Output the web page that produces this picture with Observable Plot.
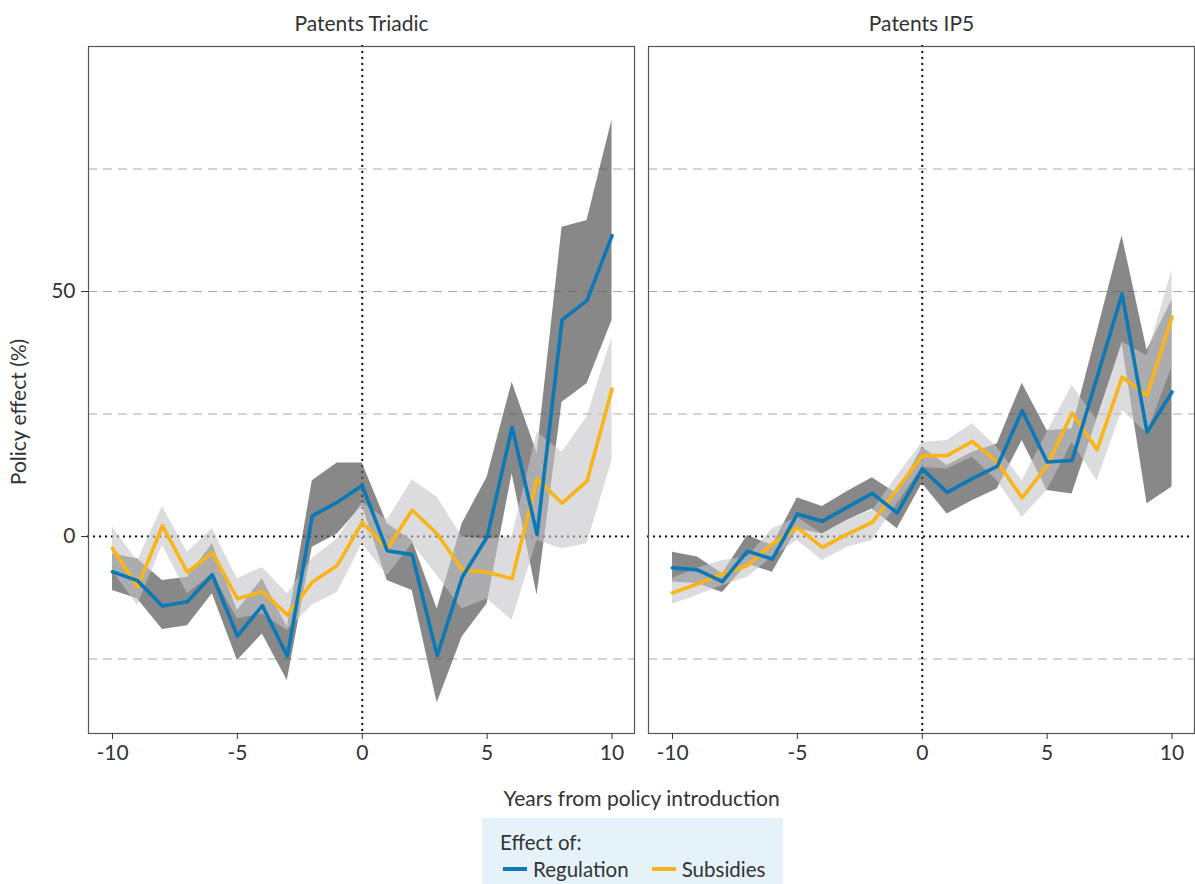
<!DOCTYPE html>
<html>
<head>
<meta charset="utf-8">
<script src="https://cdn.jsdelivr.net/npm/d3@7"></script>
<script src="https://cdn.jsdelivr.net/npm/@observablehq/plot@0.6"></script>
<style>
  html, body { margin: 0; padding: 0; background: #fff; }
  #wrap { position: relative; width: 1195px; height: 884px; font-family: Lato, "Open Sans", sans-serif; color: #333; }
  #legend { position: absolute; left: 482px; top: 818px; width: 301px; height: 66px; background: #e6f2f9; box-sizing: border-box; padding: 12px 0 0 18px; font-size: 20.5px; line-height: 24px; color: #333; }
  #legend .row { display: flex; align-items: center; margin-top: 3px; }
  #legend .sw { display: inline-block; width: 24px; height: 4px; margin-right: 6px; margin-left: 3px; }
  #legend .item { display: inline-flex; align-items: center; margin-right: 20px; }
</style>
</head>
<body>
<div id="wrap">
  <div id="chart"></div>
  <div id="legend"></div>
</div>
<script>
const years = [-10,-9,-8,-7,-6,-5,-4,-3,-2,-1,0,1,2,3,4,5,6,7,8,9,10];
const panels = ["Patents Triadic", "Patents IP5"];
const seriesNames = ["Regulation", "Subsidies"];
const seriesColors = ["#0b79b5", "#f9b418"];

// Patents Triadic
const triadicReg   = [-7.2, -9.0, -14.2, -13.3, -7.8, -20.3, -14.1, -24.4, 4.2, 7.0, 10.4, -2.9, -3.7, -24.3, -8.3, -0.1, 22.3, 0.4, 44.2, 48.2, 61.4];
const triadicRegLo = [-11.0, -12.7, -19.0, -18.2, -11.7, -25.3, -19.9, -29.4, -2.2, 0.5, 6.3, -9.0, -11.0, -34.0, -20.5, -13.7, 12.8, -12.0, 27.4, 31.2, 44.1];
const triadicRegHi = [-3.5, -4.6, -9.0, -8.3, -1.5, -15.1, -8.6, -18.5, 11.4, 15.0, 15.0, 2.6, -0.8, -14.8, 2.6, 12.1, 31.5, 17.0, 63.1, 64.5, 85.0];
const triadicSub   = [-2.4, -10.3, 2.2, -7.3, -3.3, -12.7, -11.2, -16.0, -9.3, -5.9, 2.9, -2.5, 5.4, 0.5, -6.8, -7.3, -8.6, 11.8, 6.8, 11.3, 30.1];
const triadicSubLo = [-7.0, -14.1, -1.8, -11.7, -7.6, -16.8, -15.8, -19.2, -14.0, -11.4, -1.5, -8.0, -1.5, -8.0, -14.8, -12.7, -17.1, -0.8, -2.5, -1.5, 15.5];
const triadicSubHi = [1.9, -5.0, 6.1, -3.2, 1.6, -8.6, -6.3, -11.7, -4.5, -0.5, 7.0, 3.3, 11.6, 8.0, -0.1, -0.5, 0.0, 21.3, 17.2, 24.4, 40.7];

// Patents IP5
const ip5Reg   = [-6.4, -6.8, -9.2, -3.0, -4.6, 4.6, 3.1, 6.0, 8.8, 4.8, 13.8, 9.0, 11.8, 14.3, 25.7, 15.2, 15.5, 32.5, 49.5, 21.3, 29.5];
const ip5RegLo = [-9.3, -9.6, -11.4, -5.6, -7.3, 1.6, 0.5, 3.3, 5.6, 1.6, 10.8, 4.6, 7.3, 9.7, 19.6, 9.4, 8.7, 24.0, 39.3, 6.7, 10.1];
const ip5RegHi = [-3.2, -4.2, -7.6, 0.2, -1.8, 7.9, 6.1, 9.2, 12.0, 8.7, 18.2, 14.5, 17.2, 18.9, 31.3, 21.6, 22.0, 41.7, 61.4, 38.0, 48.2];
const ip5Sub   = [-11.5, -9.7, -7.6, -5.9, -1.5, 1.8, -2.2, 0.5, 2.9, 9.7, 16.5, 16.5, 19.4, 15.2, 7.9, 14.5, 25.2, 17.7, 32.5, 28.8, 44.8];
const ip5SubLo = [-13.8, -12.0, -10.0, -8.3, -4.2, -0.8, -4.9, -2.2, -0.8, 6.7, 14.1, 13.8, 16.2, 11.4, 3.9, 9.4, 19.2, 11.4, 25.7, 21.0, 34.6];
const ip5SubHi = [-8.5, -6.5, -4.9, -4.2, 1.6, 3.9, 0.5, 3.3, 5.3, 12.4, 19.2, 19.6, 23.0, 18.2, 11.4, 21.3, 30.8, 23.7, 39.7, 36.9, 54.3];

const yTicks = [0, 50];
const xTicks = [-10, -5, 0, 5, 10];
const gridValues = [-25, 25, 50, 75];

const sources = [
  [panels[0], triadicReg, triadicRegLo, triadicRegHi, triadicSub, triadicSubLo, triadicSubHi],
  [panels[1], ip5Reg, ip5RegLo, ip5RegHi, ip5Sub, ip5SubLo, ip5SubHi]
];
const rows = [];
for (const [panel, reg, regLo, regHi, sub, subLo, subHi] of sources) {
  years.forEach((t, i) => rows.push({panel, t, reg: reg[i], regLo: regLo[i], regHi: regHi[i], sub: sub[i], subLo: subLo[i], subHi: subHi[i]}));
}

const hyphen = d => String(d);

const chart = Plot.plot({
  width: 1195,
  height: 812,
  marginLeft: 88,
  marginRight: 1,
  marginTop: 46,
  marginBottom: 79,
  style: {fontFamily: "Lato, 'Open Sans', sans-serif", fontSize: "18px", color: "#333", background: "#fff"},
  fx: {domain: panels, paddingInner: 0.025, paddingOuter: 0, label: null},
  x: {domain: [-10.96, 10.9]},
  y: {domain: [-40.2, 100]},
  marks: [
    Plot.ruleY(gridValues, {stroke: "#a8a8a8", strokeWidth: 1.1, strokeDasharray: "9,6"}),
    Plot.ruleY([0], {stroke: "#111", strokeWidth: 2.3, strokeDasharray: "0,6", strokeLinecap: "round"}),
    Plot.ruleX([0], {stroke: "#111", strokeWidth: 2.3, strokeDasharray: "0,6", strokeLinecap: "round"}),
    Plot.areaY(rows, {fx: "panel", x: "t", y1: "regLo", y2: "regHi", fill: "#555", fillOpacity: 0.7}),
    Plot.areaY(rows, {fx: "panel", x: "t", y1: "subLo", y2: "subHi", fill: "#c4c5c8", fillOpacity: 0.6}),
    Plot.lineY(rows, {fx: "panel", x: "t", y: "sub", stroke: seriesColors[1], strokeWidth: 3.6}),
    Plot.lineY(rows, {fx: "panel", x: "t", y: "reg", stroke: seriesColors[0], strokeWidth: 3.6}),
    Plot.frame({stroke: "#555", strokeWidth: 1.2}),
    Plot.axisFx({anchor: "top", tickSize: 0, tickPadding: 16, fontSize: 21, label: null}),
    Plot.axisX({ticks: xTicks, tickFormat: hyphen, tickSize: 6, tickPadding: 6, fontSize: 21, label: "Years from policy introduction", labelAnchor: "center", labelArrow: "none", labelOffset: 72, stroke: "#333"}),
    Plot.axisY({ticks: yTicks, tickFormat: hyphen, tickSize: 7, tickPadding: 6, fontSize: 21, label: "Policy effect (%)", labelAnchor: "center", labelArrow: "none", labelOffset: 77, stroke: "#333"})
  ]
});
// axis titles at their own size; y title sits a little below the frame centre
chart.querySelectorAll("[aria-label='x-axis label'], [aria-label='y-axis label']").forEach(g => g.setAttribute("font-size", "21"));
chart.querySelectorAll("[aria-label='y-axis label']").forEach(g => {
  const t = g.getAttribute("transform") || "";
  g.setAttribute("transform", `translate(0,22) ${t}`.trim());
});
document.getElementById("chart").appendChild(chart);

const legend = document.getElementById("legend");
const title = document.createElement("div");
title.textContent = "Effect of:";
legend.appendChild(title);
const row = document.createElement("div");
row.className = "row";
seriesNames.forEach((name, i) => {
  const item = document.createElement("span");
  item.className = "item";
  const sw = document.createElement("span");
  sw.className = "sw";
  sw.style.background = seriesColors[i];
  item.appendChild(sw);
  item.appendChild(document.createTextNode(name));
  row.appendChild(item);
});
legend.appendChild(row);
</script>
</body>
</html>
